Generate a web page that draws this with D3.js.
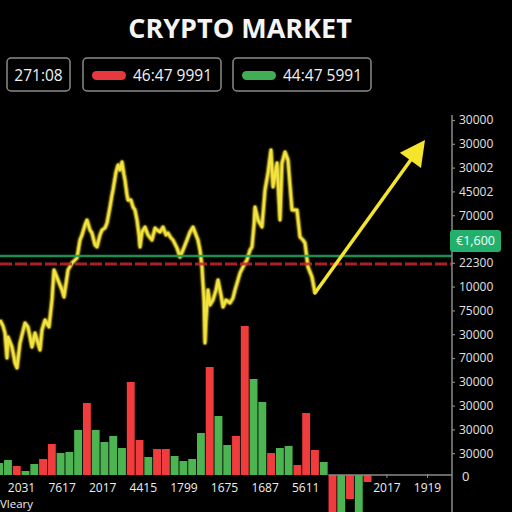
<!DOCTYPE html>
<html>
<head>
<meta charset="utf-8">
<script src="https://cdn.jsdelivr.net/npm/d3@7"></script>
<style>
  html, body { margin: 0; padding: 0; background: #000; }
  svg { display: block; font-family: "Open Sans", sans-serif; }
</style>
</head>
<body>
<div id="chart"></div>
<script>
(function() {

const width = 512,
height = 512;

// price series: [day, price]
const price = [
  [0, 1150], [6, 1120], [10, 1085], [14, 960], [16, 1065], [24, 1015], [30, 935], [34, 910],
  [40, 1035], [50, 1135], [56, 1115], [64, 1015], [70, 1085], [80, 1000], [84, 1100], [90, 1150],
  [98, 1115], [104, 1250], [108, 1400], [116, 1350], [124, 1300], [128, 1265], [134, 1365], [136, 1400],
  [144, 1435], [154, 1460], [160, 1550], [164, 1575], [170, 1625], [174, 1650], [180, 1600], [184, 1585],
  [190, 1525], [194, 1515], [200, 1575], [204, 1600], [210, 1610], [214, 1635], [220, 1715], [224, 1775],
  [226, 1800], [232, 1890], [236, 1925], [240, 1900], [244, 1940], [248, 1875], [250, 1850], [254, 1775],
  [256, 1750], [262, 1750], [266, 1715], [270, 1700], [274, 1650], [278, 1575], [280, 1515], [284, 1590],
  [290, 1615], [296, 1575], [304, 1550], [310, 1610], [314, 1600], [320, 1590], [326, 1615], [332, 1575],
  [336, 1585], [342, 1560], [346, 1550], [354, 1510], [360, 1465], [366, 1500], [374, 1550], [380, 1590],
  [386, 1615], [392, 1575], [396, 1550], [400, 1500], [404, 1415], [408, 1250], [410, 1035], [412, 1150],
  [416, 1300], [420, 1225], [426, 1250], [432, 1300], [436, 1350], [442, 1275], [446, 1215], [452, 1250],
  [460, 1235], [466, 1260], [470, 1300], [476, 1350], [480, 1385], [488, 1425], [494, 1450], [500, 1500],
  [504, 1515], [508, 1625], [510, 1715], [516, 1650], [524, 1615], [530, 1800], [536, 1885], [542, 2000],
  [546, 1815], [550, 1875], [554, 1935], [560, 1650], [564, 1935], [570, 1990], [576, 1950], [580, 1825],
  [584, 1700], [594, 1700], [600, 1565], [606, 1550], [610, 1535], [616, 1415], [624, 1365], [630, 1285]
];
const arrowTarget = [850, 2050];

const supportLevel = 1470;   // green line
const resistLevel = 1430;    // red dashed line
const badgeLevel = 1545;
const badgeText = "€1,600";

// volume bars: value and direction (1 = up / green, 0 = down / red)
const volume = [12, 15, 9, 4, 11, 16, 31, 22, 23, 45, 72, 45, 33, 39, 27, 93, 35, 18, 26, 26,
  19, 14, 16, 42, 108, 59, 30, 39, 149, 96, 73, 22, 27, 29, 10, 62, 25, 13,
  -45, -45, -24, -45, -7];
const volumeUp = [1, 1, 0, 1, 1, 0, 0, 1, 1, 1, 0, 1, 1, 1, 1, 0, 0, 1, 0, 0,
  1, 1, 1, 1, 0, 1, 1, 0, 0, 1, 1, 0, 1, 1, 0, 0, 0, 1,
  0, 1, 0, 1, 0];

const rightLabels = ["30000", "30000", "30002", "45002", "70000", "", "22300", "10000",
  "75000", "30000", "70000", "30000", "30000", "30000", "30000", "0"];
const bottomLabels = ["2031", "7617", "2017", "4415", "1799", "1675", "1687", "5611", "", "2017", "1919"];

const boxes = [
  { text: "271:08", pill: null },
  { text: "46:47 9991", pill: "#e8383f" },
  { text: "44:47 5991", pill: "#3fae55" }
];

const red = "#f03c3c", green = "#4cb552";

const svg = d3.select("#chart")
  .append("svg")
  .attr("width", width)
  .attr("height", height)
  .attr("viewBox", [0, 0, width, height]);

svg.append("rect").attr("width", width).attr("height", height).attr("fill", "#000");

const defs = svg.append("defs");
const glow = defs.append("filter").attr("id", "glow")
  .attr("x", "-10%").attr("y", "-10%").attr("width", "120%").attr("height", "120%");
glow.append("feGaussianBlur").attr("stdDeviation", 1.5).attr("result", "b");
const fm = glow.append("feMerge");
fm.append("feMergeNode").attr("in", "b");
fm.append("feMergeNode").attr("in", "SourceGraphic");

// title
svg.append("text")
  .attr("x", 240).attr("y", 38)
  .attr("text-anchor", "middle")
  .attr("fill", "#f4f4f4")
  .attr("font-size", 27)
  .attr("font-weight", 700)
  .text("CRYPTO MARKET");

// top boxes
const boxX = d3.scaleOrdinal().domain([0, 1, 2]).range([7, 83, 233]);
const boxW = d3.scaleOrdinal().domain([0, 1, 2]).range([63, 138, 138]);
const bg = svg.append("g").selectAll("g").data(boxes).join("g")
  .attr("transform", (d, i) => `translate(${boxX(i)},58)`);
bg.append("rect")
  .attr("width", (d, i) => boxW(i)).attr("height", 33)
  .attr("rx", 4)
  .attr("fill", "none").attr("stroke", "#8a8a8a").attr("stroke-width", 1.5);
bg.filter(d => d.pill).append("rect")
  .attr("x", 9).attr("y", 13).attr("width", 34).attr("height", 9).attr("rx", 4.5)
  .attr("fill", d => d.pill);
bg.append("text")
  .attr("x", (d, i) => d.pill ? 50 : boxW(i) / 2)
  .attr("y", 22.5)
  .attr("text-anchor", d => d.pill ? "start" : "middle")
  .attr("fill", "#f2f2f2")
  .attr("font-size", 15.5)
  .text(d => d.text);

// scales
const x = d3.scaleLinear().domain([0, 630]).range([0, 315]);
const y = d3.scaleLinear().domain([1000, 2000]).range([350, 150]);

const xBand = d3.scaleBand().domain(d3.range(volume.length)).range([-4.75, 371.5]).paddingInner(0.1);
const yVol = d3.scaleLinear().domain([0, 150]).range([475, 325]);

const axisY = d3.scaleLinear().domain([0, rightLabels.length - 1]).range([120, 477]);
const axisX = d3.scaleLinear().domain([0, bottomLabels.length - 1]).range([21, 427]);
const axisLeft = 452;

// volume bars
svg.append("g").selectAll("rect").data(volume).join("rect")
  .attr("x", (d, i) => xBand(i))
  .attr("width", xBand.bandwidth())
  .attr("y", d => yVol(Math.max(0, d)))
  .attr("height", d => Math.abs(yVol(d) - yVol(0)))
  .attr("fill", (d, i) => volumeUp[i] ? green : red);

// baseline to the right of the bars
svg.append("line")
  .attr("x1", xBand(38)).attr("x2", axisLeft)
  .attr("y1", yVol(0)).attr("y2", yVol(0))
  .attr("stroke", "#8a8a8a").attr("stroke-width", 1.5);

// price line
const line = d3.line().x(d => x(d[0])).y(d => y(d[1]));
svg.append("path").datum(price)
  .attr("d", line)
  .attr("fill", "none")
  .attr("stroke", "#b59a14")
  .attr("stroke-width", 4.5)
  .attr("stroke-opacity", 0.55)
  .attr("stroke-linejoin", "round");
svg.append("path").datum(price)
  .attr("d", line)
  .attr("fill", "none")
  .attr("stroke", "#f3e33f")
  .attr("stroke-width", 2.4)
  .attr("stroke-linejoin", "round")
  .attr("filter", "url(#glow)");

// levels
svg.append("line")
  .attr("x1", 0).attr("x2", axisLeft)
  .attr("y1", y(supportLevel)).attr("y2", y(supportLevel))
  .attr("stroke", "#1f9c5c").attr("stroke-width", 2.5).attr("stroke-opacity", 0.9);
svg.append("line")
  .attr("x1", 0).attr("x2", axisLeft)
  .attr("y1", y(resistLevel)).attr("y2", y(resistLevel))
  .attr("stroke", "#c8262f").attr("stroke-width", 3).attr("stroke-opacity", 0.85)
  .attr("stroke-dasharray", "12,3");

// arrow
const last = price[price.length - 1];
const p0 = [x(last[0]), y(last[1])], p1 = [x(arrowTarget[0]), y(arrowTarget[1])];
const len = Math.hypot(p1[0] - p0[0], p1[1] - p0[1]);
const ux = (p1[0] - p0[0]) / len, uy = (p1[1] - p0[1]) / len;
const headL = 25, headW = 13;
const base = [p1[0] - ux * headL, p1[1] - uy * headL];
svg.append("line")
  .attr("x1", p0[0]).attr("y1", p0[1])
  .attr("x2", base[0] + ux * 2).attr("y2", base[1] + uy * 2)
  .attr("stroke", "#f4e42c").attr("stroke-width", 3.5).attr("stroke-linecap", "round");
svg.append("polygon")
  .attr("points", [p1, [base[0] - uy * headW, base[1] + ux * headW], [base[0] + uy * headW, base[1] - ux * headW]].join(" "))
  .attr("fill", "#f4e42c");

// right axis
svg.append("line")
  .attr("x1", axisLeft).attr("x2", axisLeft)
  .attr("y1", 115).attr("y2", height)
  .attr("stroke", "#8a8a8a").attr("stroke-width", 1.5);
const ra = svg.append("g")
  .attr("transform", `translate(${axisLeft},0)`)
  .call(d3.axisRight(axisY)
    .tickValues(d3.range(rightLabels.length).filter(i => rightLabels[i] !== "" && rightLabels[i] !== "0"))
    .tickFormat(i => rightLabels[i])
    .tickSize(3).tickPadding(4));
ra.select(".domain").remove();
ra.selectAll("line").attr("stroke", "#8a8a8a").attr("stroke-width", 1.2);
ra.selectAll("text").attr("fill", "#e2e2e2").attr("font-size", 12).attr("font-family", "Open Sans, sans-serif");
svg.append("text")
  .attr("x", 462).attr("y", axisY(rightLabels.length - 1))
  .attr("dy", "0.32em")
  .attr("fill", "#e2e2e2").attr("font-size", 13)
  .text(rightLabels[rightLabels.length - 1]);

// price badge
const badge = svg.append("g").attr("transform", `translate(450,${y(badgeLevel)})`);
badge.append("rect")
  .attr("x", 0).attr("y", -11).attr("width", 51).attr("height", 22).attr("rx", 3)
  .attr("fill", "#22b06c");
badge.append("text")
  .attr("x", 25.5).attr("dy", "0.35em")
  .attr("text-anchor", "middle")
  .attr("fill", "#f4fff8").attr("font-size", 12.5)
  .text(badgeText);

// bottom axis
const ba = svg.append("g")
  .attr("transform", `translate(0,${yVol(0)})`)
  .call(d3.axisBottom(axisX)
    .tickValues(d3.range(bottomLabels.length).filter(i => bottomLabels[i] !== ""))
    .tickFormat(i => bottomLabels[i])
    .tickSize(0).tickPadding(8));
ba.select(".domain").remove();
ba.selectAll("text").attr("fill", "#eeeeee").attr("font-size", 12).attr("font-family", "Open Sans, sans-serif");
ba.selectAll(".tick").filter(i => axisX(i) > xBand(38))
  .append("line").attr("y1", -1).attr("y2", 3).attr("stroke", "#8a8a8a");

svg.append("text")
  .attr("x", 0).attr("y", 508)
  .attr("fill", "#eeeeee").attr("font-size", 11.5)
  .text("Vleary");

})();
</script>
</body>
</html>
